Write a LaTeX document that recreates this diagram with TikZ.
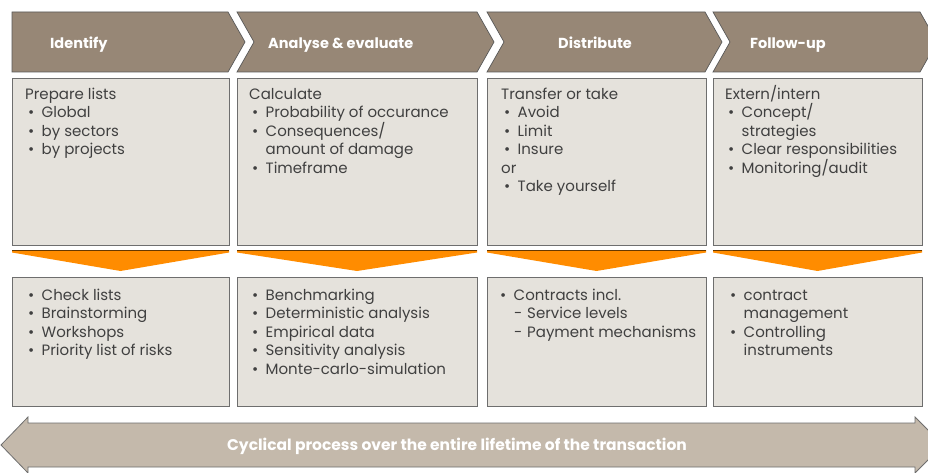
\documentclass[tikz,border=0pt]{standalone}
\usepackage{fontspec}
\setmainfont{Poppins}
\definecolor{chev}{HTML}{978776}
\definecolor{boxfill}{HTML}{E5E2DC}
\definecolor{boxline}{HTML}{6E6E6E}
\definecolor{orng}{HTML}{FF8C00}
\definecolor{arrfill}{HTML}{C4B9AB}
\definecolor{txt}{HTML}{404040}
\newcommand{\bl}[1]{\makebox[16.5pt][l]{\hspace{3pt}•}#1}
\newcommand{\hg}[1]{\hspace*{16.5pt}#1}
\newcommand{\dl}[1]{\hspace*{17pt}\makebox[13pt][l]{-}#1}
\newcommand{\fs}{\rule{0pt}{14pt}}
\tikzset{
  chevron/.style={fill=chev, draw=black!65, line width=0.7pt},
  head/.style={text=white, font=\fontsize{14.5}{16}\selectfont\bfseries, anchor=base west, inner sep=0pt},
  card/.style={fill=boxfill, draw=boxline, line width=0.8pt},
  body/.style={text=txt, font=\fontsize{15}{18.5}\selectfont, anchor=north west, inner sep=0pt, align=left},
  drop/.style={fill=orng},
  dropedge/.style={draw=black!60!orng, line width=0.6pt},
}
\begin{document}
\begin{tikzpicture}[x=1pt,y=-1pt]
\clip (0,0) rectangle (928,473);
\fill[white] (0,0) rectangle (928,473);
% chevrons
\draw[chevron] (12,12) -- (228,12) -- (245,42) -- (228,72) -- (12,72) -- cycle;
\draw[chevron] (237,12) -- (477,12) -- (494,42) -- (477,72) -- (237,72) -- (254,42) -- cycle;
\draw[chevron] (487,12) -- (705,12) -- (722,42) -- (705,72) -- (487,72) -- (504,42) -- cycle;
\draw[chevron] (713,12) -- (920,12) -- (937,42) -- (920,72) -- (713,72) -- (730,42) -- cycle;
\node[head] (h1) at (50,49) {Identify};
\node[head] (h2) at (268,49) {Analyse \& evaluate};
\node[head] (h3) at (558,49) {Distribute};
\node[head] (h4) at (750,49) {Follow-up};
% upper cards
\draw[card] (12,78) rectangle (229,245);
\draw[card] (237,78) rectangle (477,245);
\draw[card] (487,78) rectangle (706,245);
\draw[card] (713,78) rectangle (922,245);
\node[body] (t1) at (25,85) {\fs Prepare lists\\\bl{Global}\\\bl{by sectors}\\\bl{by projects}};
\node[body] (t2) at (249,85) {\fs Calculate\\\bl{Probability of occurance}\\\bl{Consequences/}\\\hg{amount of damage}\\\bl{Timeframe}};
\node[body] (t3) at (501,85) {\fs Transfer or take\\\bl{Avoid}\\\bl{Limit}\\\bl{Insure}\\or\\\bl{Take yourself}};
\node[body] (t4) at (725,85) {\fs Extern/intern\\\bl{Concept/}\\\hg{strategies}\\\bl{Clear responsibilities}\\\bl{Monitoring/audit}};
% orange drops
\foreach \a/\b in {12/229, 237/477, 487/706, 713/922}{
  \fill[drop] (\a,250) -- (\b,250) -- (\b,252.5) -- ({(\a+\b)/2},271) -- (\a,252.5) -- cycle;
  \draw[dropedge] (\a,250.3) -- (\b,250.3);
}
% lower cards
\draw[card] (12,277) rectangle (229,406);
\draw[card] (237,277) rectangle (477,406);
\draw[card] (487,277) rectangle (706,406);
\draw[card] (713,277) rectangle (922,406);
\node[body] (b1) at (25,286) {\fs\bl{Check lists}\\\bl{Brainstorming}\\\bl{Workshops}\\\bl{Priority list of risks}};
\node[body] (b2) at (249,286) {\fs\bl{Benchmarking}\\\bl{Deterministic analysis}\\\bl{Empirical data}\\\bl{Sensitivity analysis}\\\bl{Monte-carlo-simulation}};
\node[body] (b3) at (497,286) {\fs\bl{Contracts incl.}\\\dl{Service levels}\\\dl{Payment mechanisms}};
\node[body] (b4) at (727,286) {\fs\bl{contract}\\\hg{management}\\\bl{Controlling}\\\hg{instruments}};
% double arrow
\draw[fill=arrfill, draw=boxline, line width=0.8pt]
  (1,445) -- (28,417) -- (28,423) -- (915,423) -- (915,417) -- (943,445)
  -- (915,473) -- (915,467) -- (28,467) -- (28,473) -- cycle;
\node[head, anchor=center, font=\fontsize{15.5}{18}\selectfont\bfseries] (cyc) at (457,446) {Cyclical process over the entire lifetime of the transaction};
\end{tikzpicture}
\end{document}
